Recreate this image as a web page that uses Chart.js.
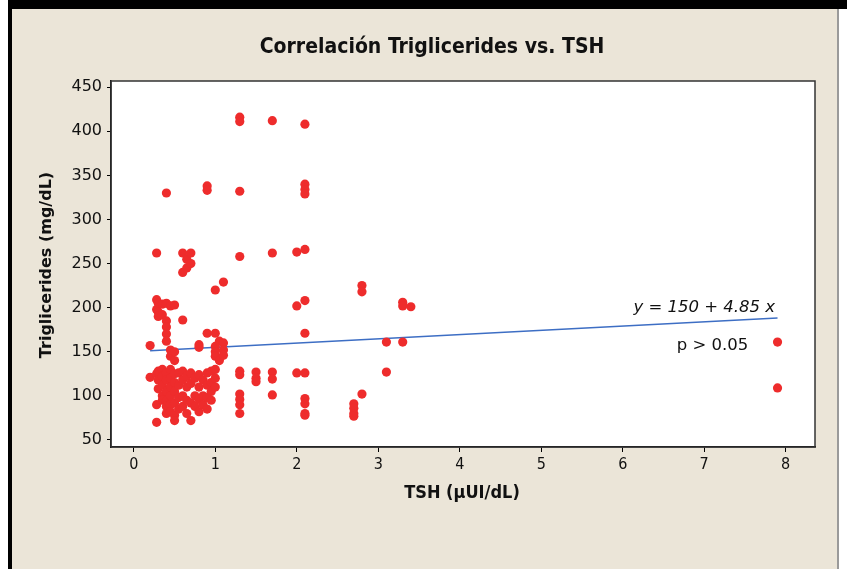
<!DOCTYPE html>
<html><head><meta charset="utf-8">
<script src="https://cdn.jsdelivr.net/npm/chart.js@4/dist/chart.umd.min.js"></script>
<style>html,body{margin:0;padding:0;background:#fff}</style>
</head><body>
<canvas id="c" width="847" height="569"></canvas>
<script>
// TSH levels (µUI/dL) and triglyceride values (mg/dL) observed at each level
const tshLevels = [0.2, 0.28, 0.3, 0.35, 0.4, 0.45, 0.5, 0.55, 0.6, 0.65, 0.7, 0.75, 0.8, 0.85, 0.9, 0.95, 1.0, 1.05, 1.1, 1.3, 1.5, 1.7, 2.0, 2.1, 2.7, 2.8, 3.1, 3.3, 3.4, 7.9];
const tgByLevel = [
  [157, 121],
  [262, 209, 198, 125, 90, 70],
  [205, 195, 190, 128, 118, 108],
  [204, 192, 130, 122, 112, 100, 95],
  [330, 205, 185, 178, 170, 162, 126, 118, 105, 95, 88, 80],
  [202, 152, 145, 130, 120, 110, 100, 90, 82],
  [203, 150, 140, 125, 115, 105, 92, 78, 72],
  [126, 112, 98, 85],
  [262, 240, 186, 128, 118, 100, 88],
  [255, 245, 122, 110, 95, 80],
  [262, 250, 126, 114, 92, 72],
  [120, 100, 88],
  [158, 155, 124, 110, 96, 82],
  [118, 100, 90],
  [338, 333, 171, 126, 112, 98, 85],
  [128, 115, 105, 95],
  [220, 171, 156, 150, 145, 130, 120, 110],
  [162, 140],
  [229, 160, 152, 146],
  [416, 411, 332, 258, 128, 124, 102, 96, 90, 80],
  [127, 120, 116],
  [412, 262, 127, 119, 101],
  [263, 202, 126],
  [408, 340, 334, 329, 266, 208, 171, 126, 97, 91, 80, 78],
  [91, 86, 80, 77],
  [225, 218, 102],
  [161, 127],
  [206, 202, 161],
  [201],
  [161, 109]
];
// fitted regression line endpoints (y = 150 + 4.85 x)
const fitX = [0.2, 7.9];
const fitY = [151, 188.3];
const xTicks = [0, 1, 2, 3, 4, 5, 6, 7, 8];
const yTicks = [50, 100, 150, 200, 250, 300, 350, 400, 450];
const titleText = 'Correlación Triglicerides vs. TSH';
const xTitle = 'TSH (µUI/dL)';
const yTitle = 'Triglicerides (mg/dL)';
const eqText = 'y = 150 + 4.85 x';
const pText = 'p > 0.05';

const points = [];
tshLevels.forEach((x, i) => tgByLevel[i].forEach(v => points.push({x: x, y: v})));
const fitPoints = fitX.map((x, i) => ({x: x, y: fitY[i]}));

const BEIGE = '#EBE5D8';
const frame = {
  id: 'frame',
  beforeDraw(chart) {
    const ctx = chart.ctx, W = chart.width, H = chart.height, a = chart.chartArea;
    ctx.save();
    ctx.fillStyle = '#ffffff';
    ctx.fillRect(0, 0, W, H);
    ctx.fillStyle = BEIGE;
    ctx.fillRect(12, 9, 825, H - 9);
    ctx.fillStyle = '#000';
    ctx.fillRect(8, 0, W - 8, 9);
    ctx.fillRect(8, 0, 4, H);
    ctx.fillStyle = '#9a9a9a';
    ctx.fillRect(837, 9, 2, H - 9);
    ctx.fillStyle = '#ffffff';
    ctx.fillRect(a.left, a.top, a.right - a.left, a.bottom - a.top);
    ctx.restore();
  },
  afterDraw(chart) {
    const ctx = chart.ctx, a = chart.chartArea;
    const xs = chart.scales.x, ys = chart.scales.y;
    ctx.save();
    ctx.strokeStyle = '#333';
    ctx.lineWidth = 1.5;
    ctx.strokeRect(a.left, a.top, a.right - a.left, a.bottom - a.top);
    ctx.fillStyle = '#111';
    // title
    ctx.font = 'bold 21px "DejaVu Sans Condensed", "DejaVu Sans"';
    ctx.textAlign = 'center';
    ctx.textBaseline = 'middle';
    ctx.fillText(titleText, 432, 48);
    // x title
    ctx.font = 'bold 18px "DejaVu Sans Condensed", "DejaVu Sans"';
    ctx.fillText(xTitle, 462, 493);
    // y title
    ctx.save();
    ctx.translate(47, 265);
    ctx.rotate(-Math.PI / 2);
    ctx.font = 'bold 16px "DejaVu Sans"';
    ctx.fillText(yTitle, 0, 0);
    ctx.restore();
    // annotations
    ctx.textAlign = 'right';
    ctx.textBaseline = 'alphabetic';
    ctx.font = 'italic 16.5px "DejaVu Sans"';
    ctx.fillText(eqText, xs.getPixelForValue(7.87), ys.getPixelForValue(195));
    ctx.font = '16.5px "DejaVu Sans"';
    ctx.fillText(pText, xs.getPixelForValue(7.54), ys.getPixelForValue(152));
    ctx.restore();
  }
};

new Chart(document.getElementById('c'), {
  type: 'scatter',
  data: {
    datasets: [
      {data: points, backgroundColor: '#EE2C2C', borderColor: '#EE2C2C', borderWidth: 0, pointRadius: 4.6, pointHoverRadius: 4.6},
      {data: fitPoints, type: 'line', showLine: true, borderColor: '#3D6EC4', borderWidth: 1.5, pointRadius: 0, fill: false}
    ]
  },
  options: {
    responsive: false,
    devicePixelRatio: 1,
    animation: false,
    events: [],
    layout: {padding: {left: 12, top: 81, right: 32, bottom: 62}},
    plugins: {legend: {display: false}, tooltip: {enabled: false}, title: {display: false}},
    scales: {
      x: {
        type: 'linear', min: -0.28, max: 8.36,
        afterBuildTicks: s => { s.ticks = xTicks.map(v => ({value: v})); },
        afterFit: s => { s.height = 60; },
        ticks: {font: {family: '"DejaVu Sans Condensed", "DejaVu Sans"', size: 16}, color: '#111', padding: 3, maxRotation: 0},
        grid: {drawOnChartArea: false, drawTicks: true, tickLength: 5, tickColor: '#000', tickWidth: 1},
        border: {display: true, color: '#000', width: 1.5}
      },
      y: {
        type: 'linear', min: 42, max: 457,
        afterBuildTicks: s => { s.ticks = yTicks.map(v => ({value: v})); },
        afterFit: s => { s.width = 99; },
        ticks: {font: {family: '"DejaVu Sans"', size: 16}, color: '#111', padding: 5},
        grid: {drawOnChartArea: false, drawTicks: true, tickLength: 4, tickColor: '#000', tickWidth: 1},
        border: {display: true, color: '#000', width: 1.5}
      }
    }
  },
  plugins: [frame]
});
</script>
</body></html>
